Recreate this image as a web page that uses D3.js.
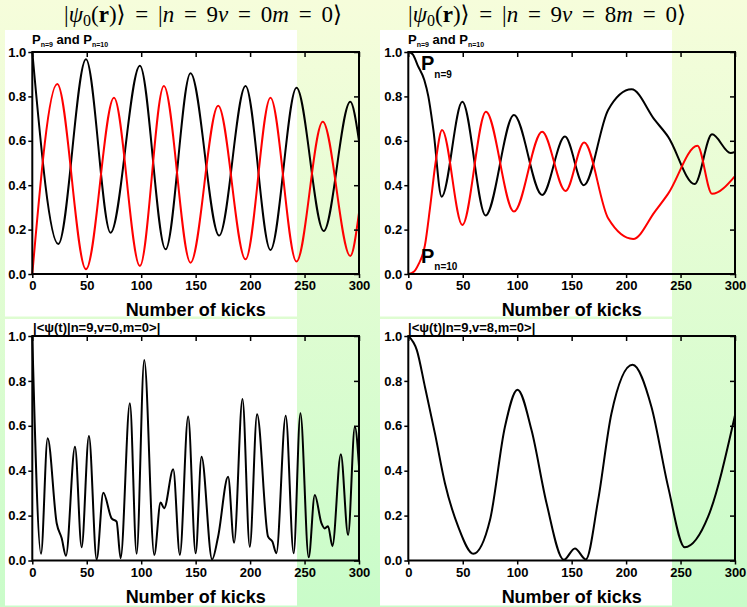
<!DOCTYPE html>
<html><head><meta charset="utf-8">
<script src="https://cdn.jsdelivr.net/npm/d3@7"></script>
<style>body{margin:0;} svg{display:block}</style>
</head><body><div id="chart"></div>
<script>
const xTicks = [0, 50, 100, 150, 200, 250, 300];
const yTicks = [0, 0.2, 0.4, 0.6, 0.8, 1.0];

// [kick, value]
const p9v0 = [[0,1.0],[23.9,0.135],[49.3,0.967],[71.9,0.186],[98.8,0.938],[122.4,0.111],[145.3,0.904],[171.6,0.173],[195.8,0.847],[218.7,0.108],[242.6,0.839],[267.6,0.194],[292,0.776],[300,0.60]];
const p10v0 = [[0,0],[22.9,0.856],[49.3,0.021],[75,0.794],[98.8,0.036],[120.8,0.847],[145.3,0.051],[170.7,0.758],[195.8,0.066],[218.7,0.794],[242.6,0.056],[266.7,0.686],[292,0.081],[300,0.275]];

const p9v8 = [[0,1.0],[4,0.99],[8.6,0.94],[14.7,0.874],[18.4,0.80],[23,0.65],[30.6,0.348],[49.6,0.776],[71,0.264],[97,0.716],[122.9,0.356],[143.8,0.619],[161.2,0.40],[183.5,0.739],[205,0.832],[226.3,0.694],[238.5,0.619],[263,0.405],[278.9,0.629],[296,0.545],[300,0.55]];
const p10v8 = [[0,0],[5,0.01],[9,0.04],[15.3,0.13],[20,0.3],[25,0.5],[31,0.649],[49.6,0.221],[71.3,0.731],[97,0.281],[122.9,0.641],[144.4,0.374],[161.5,0.592],[183.5,0.251],[206.5,0.158],[226.3,0.28],[238.5,0.361],[265.5,0.578],[278.9,0.361],[300,0.441]];

const amp0 = [[0,1.0],[8,0.03],[14.1,0.544],[22.4,0.166],[27,0.099],[30.9,0.021],[39.2,0.507],[45.3,0.059],[52,0.555],[59.1,0.005],[65.2,0.302],[72.8,0.188],[77.4,0.173],[81.1,0.01],[89.6,0.70],[95.8,0.03],[102.8,0.893],[112,0.025],[117.8,0.258],[121.1,0.233],[129.4,0.406],[135.5,0.025],[143.1,0.641],[150,0.032],[155.4,0.462],[165.1,0.005],[170.6,0.106],[179.8,0.373],[185.3,0.079],[193,0.719],[199.7,0.061],[206.4,0.651],[216.5,0.106],[220.5,0.084],[224.1,0.032],[232.7,0.645],[240,0.032],[246.2,0.656],[253.8,0.014],[259.4,0.292],[265.5,0.166],[268.5,0.143],[271.6,0.153],[275.6,0.064],[283.3,0.473],[290,0.114],[296.2,0.596],[300,0.42]];
const amp8 = [[0,1.0],[7.9,0.936],[15.3,0.773],[24.5,0.565],[33.7,0.343],[45.9,0.15],[59.7,0.03],[75,0.18],[88.7,0.595],[100.3,0.761],[113.2,0.58],[127,0.254],[142.8,0.003],[153,0.054],[163,0.005],[174.3,0.269],[186.5,0.654],[205.9,0.872],[223.3,0.684],[238.6,0.328],[253.9,0.059],[275.3,0.195],[300,0.647]];

const W = 747, H = 607;
const svg = d3.select('#chart').append('svg').attr('width', W).attr('height', H);

let grad = svg.append('defs').append('linearGradient')
    .attr('id', 'bg').attr('x1', 0).attr('y1', 0).attr('x2', 0).attr('y2', 1);
grad.append('stop').attr('offset', '0%').attr('stop-color', '#f6fddb');
grad.append('stop').attr('offset', '100%').attr('stop-color', '#c9fcc9');
svg.append('rect').attr('width', W).attr('height', H).attr('fill', 'url(#bg)');

// white boxes behind each panel (stop short of the right edge)
for (const [x, y] of [[5,30],[5,319],[380,30],[380,319]]) {
    svg.append('rect').attr('x', x).attr('y', y).attr('width', 292).attr('height', 286.5).attr('fill', '#fff');
}

function title(cx, v) {
    let t = svg.append('text').attr('x', cx).attr('y', 22)
        .attr('text-anchor', 'middle')
        .style('font-family', 'Liberation Serif, DejaVu Serif, serif').style('font-size', '23px');
    let eq = (after) => {
        t.append('tspan').attr('dx', 4).text('=');
        t.append('tspan').attr('dx', 4).text(after);
    };
    t.append('tspan').text('|');
    t.append('tspan').style('font-style', 'italic').text('ψ');
    t.append('tspan').attr('dy', 4).style('font-size', '16px').text('0');
    t.append('tspan').attr('dy', -4).text('(');
    t.append('tspan').style('font-weight', 'bold').text('r');
    t.append('tspan').text(')⟩ ');
    eq(' |');
    t.append('tspan').style('font-style', 'italic').text('n');
    t.append('tspan').text(' ');
    eq(' 9');
    t.append('tspan').style('font-style', 'italic').text('v');
    t.append('tspan').text(' ');
    eq(' ' + v);
    t.append('tspan').style('font-style', 'italic').text('m');
    t.append('tspan').text(' ');
    eq(' 0⟩');
}
title(203, 0);
title(547, 8);

function panel(x0, x1, y0, y1, series, label) {
    let x = d3.scaleLinear().domain([0, 300]).range([x0, x1]);
    let y = d3.scaleLinear().domain([0, 1]).range([y0, y1]);
    let g = svg.append('g').style('font-family', 'Liberation Sans, Arial, sans-serif').style('font-weight', 'bold');

    let line = d3.line().x(d => x(d[0])).y(d => y(d[1])).curve(d3.curveMonotoneX);
    for (const s of series) {
        g.append('path').datum(s.data).attr('d', line)
            .attr('fill', 'none').attr('stroke', s.color).attr('stroke-width', 2);
    }

    g.append('g').attr('transform', `translate(0,${y0})`)
        .call(d3.axisBottom(x).tickValues(xTicks).tickSize(4).tickPadding(3).tickFormat(d3.format('d')));
    g.append('g').attr('transform', `translate(0,${y1})`)
        .call(d3.axisBottom(x).tickValues(xTicks).tickSize(5).tickFormat(''));
    g.append('g').attr('transform', `translate(${x0},0)`)
        .call(d3.axisLeft(y).tickValues(yTicks).tickSize(4).tickPadding(2).tickFormat(d3.format('.1f')));
    g.append('g').attr('transform', `translate(${x1},0)`)
        .call(d3.axisLeft(y).tickValues(yTicks).tickSize(5).tickFormat(''));
    g.selectAll('.domain').remove();
    g.selectAll('.tick line').attr('stroke', '#000').attr('stroke-width', 1.5);
    g.selectAll('.tick text').style('font-size', '13px').attr('fill', '#000');

    g.append('rect').attr('x', x0).attr('y', y1).attr('width', x1 - x0).attr('height', y0 - y1)
        .attr('fill', 'none').attr('stroke', '#000').attr('stroke-width', 2);

    g.append('text').attr('x', (x0 + x1) / 2).attr('y', y0 + 42).attr('text-anchor', 'middle')
        .style('font-size', '18px').text('Number of kicks');

    label(g, x, y);
}

function pLabel(g, x0, y1) {
    let t = g.append('text').attr('x', x0).attr('y', y1 - 8).style('font-size', '13px');
    t.append('tspan').text('P');
    t.append('tspan').attr('dy', 3).style('font-size', '7px').text('n=9');
    t.append('tspan').attr('dy', -3).text(' and P');
    t.append('tspan').attr('dy', 3).style('font-size', '7px').text('n=10');
}
function ampLabel(g, x0, y1, v) {
    g.append('text').attr('x', x0).attr('y', y1 - 4).style('font-size', '13px')
        .text(`|<ψ(t)|n=9,v=${v},m=0>|`);
}

panel(32.3, 359, 274, 52, [{data: p9v0, color: '#000'}, {data: p10v0, color: '#f00'}],
    (g) => pLabel(g, 32, 52));
panel(408.3, 735, 274, 52, [{data: p9v8, color: '#000'}, {data: p10v8, color: '#f00'}],
    (g) => {
        pLabel(g, 408, 52);
        let a = g.append('text').attr('x', 421).attr('y', 70).style('font-size', '20px');
        a.append('tspan').text('P');
        a.append('tspan').attr('dy', 8).style('font-size', '10px').text('n=9');
        let b = g.append('text').attr('x', 421).attr('y', 263).style('font-size', '20px');
        b.append('tspan').text('P');
        b.append('tspan').attr('dy', 7).style('font-size', '10px').text('n=10');
    });
panel(32.3, 359, 560.5, 336, [{data: amp0, color: '#000'}], (g) => ampLabel(g, 33, 336, 0));
panel(408.3, 735, 560.5, 336, [{data: amp8, color: '#000'}], (g) => ampLabel(g, 408, 336, 8));
</script>
</body></html>
